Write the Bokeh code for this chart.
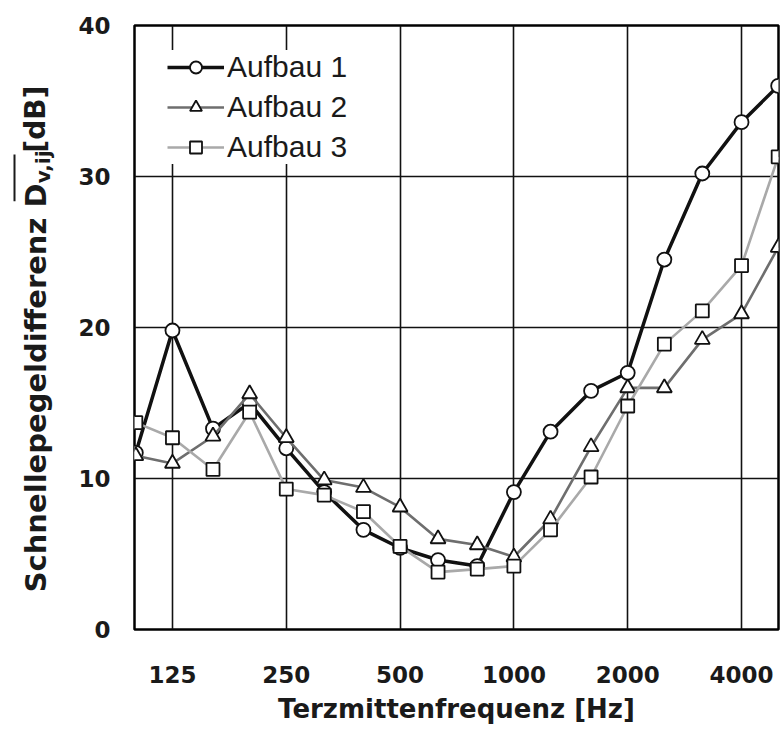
import math
from bokeh.plotting import figure
from bokeh.layouts import row
from bokeh.core.properties import value
from bokeh.models import (Range1d, FixedTicker, NumeralTickFormatter,
                          Legend, LegendItem, ColumnDataSource)
from bokeh.embed import file_html
from bokeh.resources import INLINE

# ---- data -------------------------------------------------------------
freqs = [100, 125, 160, 200, 250, 315, 400, 500, 630, 800, 1000,
         1250, 1600, 2000, 2500, 3150, 4000, 5000]
aufbau1 = [11.7, 19.8, 13.3, 15.0, 12.0, 9.1, 6.6, 5.4, 4.6, 4.2, 9.1,
           13.1, 15.8, 17.0, 24.5, 30.2, 33.6, 36.0]
aufbau2 = [11.5, 11.0, 12.8, 15.6, 12.7, 9.9, 9.4, 8.1, 6.0, 5.6, 4.8,
           7.3, 12.1, 16.0, 16.0, 19.2, 20.9, 25.3]
aufbau3 = [13.7, 12.7, 10.6, 14.4, 9.3, 8.9, 7.8, 5.5, 3.8, 4.0, 4.2,
           6.6, 10.1, 14.8, 18.9, 21.1, 24.1, 31.3]
series_names = ["Aufbau 1", "Aufbau 2", "Aufbau 3"]
x_ticks = [125, 250, 500, 1000, 2000, 4000]
y_ticks = [0, 10, 20, 30, 40]
x_title = "Terzmittenfrequenz [Hz]"
y_title_main = "Schnellepegeldifferenz D"
y_title_sub = "v,ij"
y_title_unit = "[dB]"

H = 735
LEFT_W = 60

# ---- left strip carrying the composed, rotated y-axis title -----------
pl = figure(width=LEFT_W, height=H, x_range=Range1d(0, LEFT_W),
            y_range=Range1d(0, H), output_backend="svg",
            toolbar_location=None, title=None,
            x_axis_location=None, y_axis_location=None,
            min_border_left=0, min_border_right=0,
            min_border_top=0, min_border_bottom=0)
pl.grid.visible = False
pl.outline_line_color = None
pl.background_fill_color = "white"
pl.border_fill_color = "white"

common = dict(angle=math.pi / 2, text_align="center",
              text_baseline="middle", text_color="#1a1a1a",
              text_font=value("DejaVu Sans"), text_font_style="bold")
pl.text(x=[35], y=[H - 441], text=[y_title_main], text_font_size="29px",
        **common)
pl.text(x=[42], y=[H - 172], text=[y_title_sub], text_font_size="20px",
        **common)
pl.text(x=[35], y=[H - 114], text=[y_title_unit], text_font_size="28px",
        **common)
pl.segment(x0=[14], y0=[H - 214], x1=[14], y1=[H - 157],
           line_color="#1a1a1a", line_width=2)

# ---- main chart -------------------------------------------------------
p = figure(width=783 - LEFT_W, height=H, x_axis_type="log",
           x_range=Range1d(99.2, 5010), y_range=Range1d(0, 40),
           output_backend="svg", toolbar_location=None, title=None,
           min_border_left=134 - LEFT_W, min_border_right=5,
           min_border_top=25, min_border_bottom=106)
p.background_fill_color = "white"
p.border_fill_color = "white"
p.outline_line_color = "black"
p.outline_line_width = 2.5

p.xgrid.ticker = FixedTicker(ticks=x_ticks)
p.ygrid.ticker = FixedTicker(ticks=[10, 20, 30])
for g in (p.xgrid, p.ygrid):
    g.grid_line_color = "#111111"
    g.grid_line_width = 1.6
    g.grid_line_alpha = 1.0

p.xaxis.ticker = FixedTicker(ticks=x_ticks)
p.xaxis.formatter = NumeralTickFormatter(format="0")
p.yaxis.ticker = FixedTicker(ticks=y_ticks)
for ax in (p.xaxis, p.yaxis):
    ax.axis_line_color = None
    ax.major_tick_line_color = None
    ax.minor_tick_line_color = None
    ax.major_tick_out = 0
    ax.major_tick_in = 0
    ax.minor_tick_out = 0
    ax.minor_tick_in = 0
    ax.major_label_text_font = "DejaVu Sans"
    ax.major_label_text_font_style = "bold"
    ax.major_label_text_font_size = "23px"
    ax.major_label_text_color = "#1a1a1a"
p.xaxis.major_label_standoff = 36
p.yaxis.major_label_standoff = 24
p.xaxis.axis_label = x_title
p.xaxis.axis_label_text_font = "DejaVu Sans"
p.xaxis.axis_label_text_font_style = "bold"
p.xaxis.axis_label_text_font_size = "26px"
p.xaxis.axis_label_text_color = "#1a1a1a"
p.xaxis.axis_label_standoff = 8

# ---- series -----------------------------------------------------------
src = ColumnDataSource(dict(f=freqs, a1=aufbau1, a2=aufbau2, a3=aufbau3))
styles = [
    ("a1", "#111111", 3.5, "circle", 14),
    ("a2", "#6e6e6e", 2.6, "triangle", 15),
    ("a3", "#a9a9a9", 2.6, "square", 13),
]
items = []
for name, (col, color, lw, marker, size) in zip(series_names, styles):
    lr = p.line("f", col, source=src, line_color=color, line_width=lw)
    sr = p.scatter("f", col, source=src, marker=marker, size=size,
                   fill_color="white", line_color="#111111", line_width=1.8)
    items.append(LegendItem(label=name, renderers=[lr, sr]))

legend = Legend(items=items, location=(33, 465), margin=0, padding=14,
                spacing=6, glyph_width=57, glyph_height=30,
                label_height=30, label_standoff=3,
                label_text_font="Liberation Sans", label_text_font_size="30px",
                label_text_color="#1a1a1a",
                border_line_color=None, background_fill_color="white",
                background_fill_alpha=1.0)
p.add_layout(legend, "center")

layout = row(pl, p, spacing=0)
open("out.html", "w").write(file_html(layout, INLINE))
